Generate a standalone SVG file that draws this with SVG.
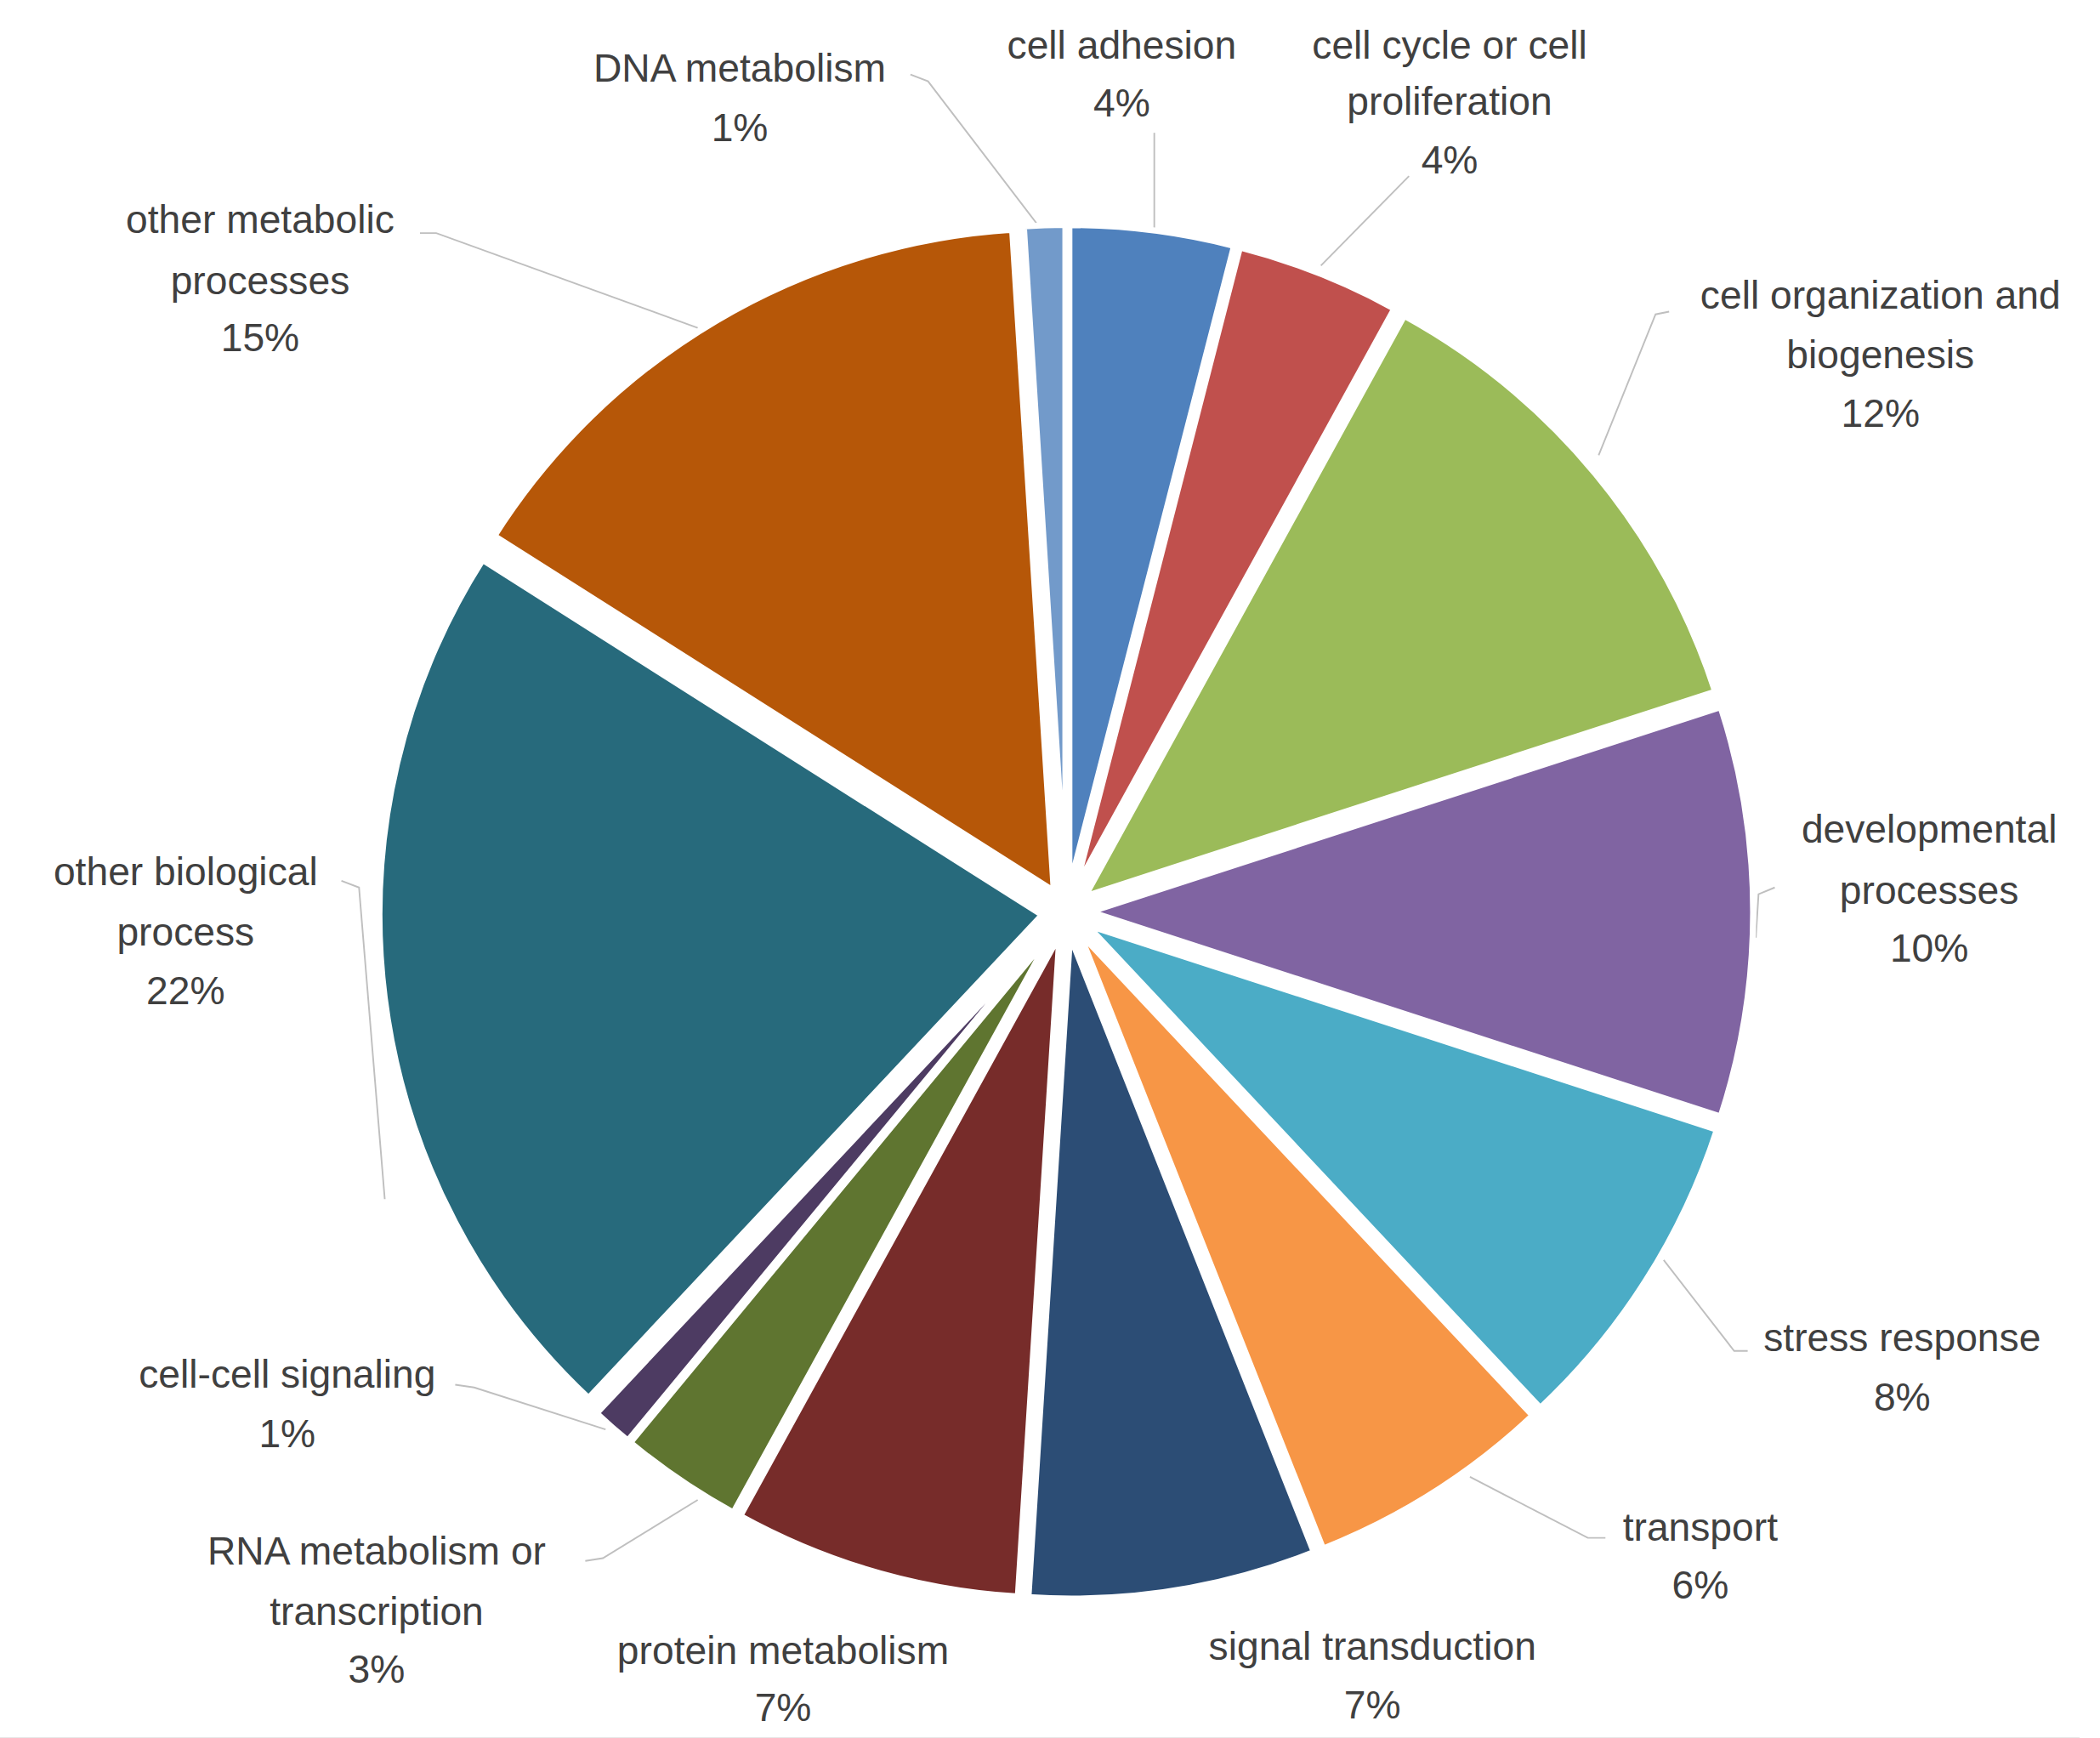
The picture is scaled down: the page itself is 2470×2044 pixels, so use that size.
<svg xmlns="http://www.w3.org/2000/svg" width="2470" height="2044" viewBox="0 0 2470 2044">
<style>
.s{stroke:#fff;stroke-width:4.5;stroke-linejoin:round}
.t{font-family:"Liberation Sans",Arial,sans-serif;font-size:29px;fill:#404040;text-anchor:middle}
.l{fill:none;stroke:#BFBFBF;stroke-width:1.2}
</style>
<rect width="2470" height="2044" fill="#fff"/>
<g transform="scale(1.5935)">
<g id="connectors">
<polyline class="l" points="672,55 685,60 766,166"/>
<polyline class="l" points="852,98 852,168"/>
<polyline class="l" points="1040,130 975,196"/>
<polyline class="l" points="1232,230 1222,232 1180,336"/>
<polyline class="l" points="1310,655 1298,660 1296,692"/>
<polyline class="l" points="1290,997 1280,997 1228,930"/>
<polyline class="l" points="1185,1135 1172,1135 1085,1090"/>
<polyline class="l" points="252,650 265,655 284,885"/>
<polyline class="l" points="310,172 322,172 515,242"/>
<polyline class="l" points="336,1022 350,1024 447,1055"/>
<polyline class="l" points="432,1152 445,1150 515,1107"/>
<line x1="0" y1="1283" x2="1535" y2="1283" stroke="#E0E0E0" stroke-width="1.5"/>
</g>
<g id="cell-adhesion"><path class="s" fill="#4F81BD" d="M789.3,655.1 L789.3,166.1 A489,489 0 0 1 910.9,181.5 Z"/><text class="t" x="828" y="43">cell adhesion</text><text class="t" x="828" y="86">4%</text></g>
<g id="cell-cycle"><path class="s" fill="#C0504D" d="M793.6,656.3 L915.2,182.7 A489,489 0 0 1 1029.2,227.8 Z"/><text class="t" x="1070" y="43">cell cycle or cell</text><text class="t" x="1070" y="85">proliferation</text><text class="t" x="1070" y="128">4%</text></g>
<g id="cell-organization"><path class="s" fill="#9BBB59" d="M800.9,661.5 L1036.5,233 A489,489 0 0 1 1266,510.4 Z"/><text class="t" x="1388" y="228">cell organization and</text><text class="t" x="1388" y="272">biogenesis</text><text class="t" x="1388" y="315">12%</text></g>
<g id="developmental"><path class="s" fill="#8064A2" d="M805,673 L1270.1,521.9 A489,489 0 0 1 1270.1,824.1 Z"/><text class="t" x="1424" y="622">developmental</text><text class="t" x="1424" y="667">processes</text><text class="t" x="1424" y="710">10%</text></g>
<g id="stress-response"><path class="s" fill="#4BACC6" d="M802.2,682.6 L1267.3,833.7 A489,489 0 0 1 1136.9,1039.1 Z"/><text class="t" x="1404" y="997">stress response</text><text class="t" x="1404" y="1041">8%</text></g>
<g id="transport"><path class="s" fill="#F79646" d="M796.6,688.2 L1131.3,1044.7 A489,489 0 0 1 976.6,1142.9 Z"/><text class="t" x="1255" y="1137">transport</text><text class="t" x="1255" y="1180">6%</text></g>
<g id="signal-transduction"><path class="s" fill="#2C4D75" d="M789.8,690.8 L969.8,1145.5 A489,489 0 0 1 759.1,1178.8 Z"/><text class="t" x="1013" y="1225">signal transduction</text><text class="t" x="1013" y="1268">7%</text></g>
<g id="protein-metabolism"><path class="s" fill="#772C2A" d="M782,690.3 L751.3,1178.3 A489,489 0 0 1 546.4,1118.8 Z"/><text class="t" x="578" y="1228">protein metabolism</text><text class="t" x="578" y="1270">7%</text></g>
<g id="rna-metabolism"><path class="s" fill="#5F7530" d="M776.9,687.9 L541.3,1116.4 A489,489 0 0 1 465.2,1064.7 Z"/><text class="t" x="278" y="1155">RNA metabolism or</text><text class="t" x="278" y="1199">transcription</text><text class="t" x="278" y="1242">3%</text></g>
<g id="cell-cell-signaling"><path class="s" fill="#4D3B62" d="M775.1,686.5 L463.4,1063.3 A489,489 0 0 1 440.4,1043 Z"/><text class="t" x="212" y="1024">cell-cell signaling</text><text class="t" x="212" y="1068">1%</text></g>
<g id="other-biological"><path class="s" fill="#276A7C" d="M769.1,675.3 L434.4,1031.8 A489,489 0 0 1 356.2,413.3 Z"/><text class="t" x="137" y="653">other biological</text><text class="t" x="137" y="698">process</text><text class="t" x="137" y="741">22%</text></g>
<g id="other-metabolic"><path class="s" fill="#B65708" d="M777.8,657.5 L364.9,395.5 A489,489 0 0 1 747.1,169.5 Z"/><text class="t" x="192" y="172">other metabolic</text><text class="t" x="192" y="217">processes</text><text class="t" x="192" y="259">15%</text></g>
<g id="dna-metabolism"><path class="s" fill="#729ACA" d="M786.4,655 L755.7,167 A489,489 0 0 1 786.4,166 Z"/><text class="t" x="546" y="60">DNA metabolism</text><text class="t" x="546" y="104">1%</text></g>
</g>
</svg>
